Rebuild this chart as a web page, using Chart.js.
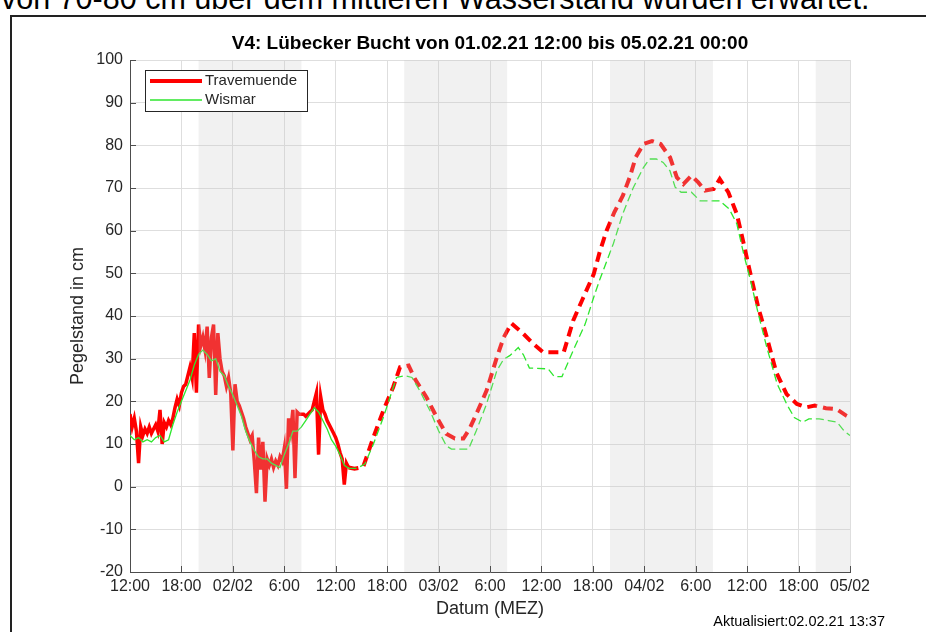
<!DOCTYPE html>
<html>
<head>
<meta charset="utf-8">
<script src="https://cdn.jsdelivr.net/npm/chart.js@4/dist/chart.umd.min.js"></script>
<style>
html, body { margin: 0; padding: 0; background: #fff; width: 926px; height: 632px; overflow: hidden; }
#intro { position: absolute; left: 1px; top: -17px; font: 30.5px 'Liberation Sans', Arial, sans-serif; line-height: 30px; white-space: nowrap; color: #000; }
#frame { position: absolute; left: 10px; top: 15px; width: 940px; height: 650px; border: 2px solid #222; box-sizing: border-box; }
#pegel { position: absolute; left: 0; top: 0; }
</style>
</head>
<body>
<div id="intro">von 70-80 cm über dem mittleren Wasserstand wurden erwartet.</div>
<div id="frame"></div>
<canvas id="pegel" width="926" height="632"></canvas>
<script>
// hours since 01.02.21 12:00
const xTickLabels = ['12:00', '18:00', '02/02', '6:00', '12:00', '18:00', '03/02', '6:00',
    '12:00', '18:00', '04/02', '6:00', '12:00', '18:00', '05/02'];
const nightStart = [8, 32, 56, 80];
const nightEnd = [20, 44, 68, 84];

// measured values, Travemuende every 15 min, Wismar every 30 min (cm)
const traveStep = 0.25;
const traveObs = [
    17, 14, 16, 13,   5.5, 14, 12, 13.5,   12.5, 14, 12.5, 13.5,   14.5, 13, 18, 10,
    15, 14, 15.5, 14.5,   16, 18.5, 20.5, 19,   22, 23.5, 24, 26,   28, 25.5, 36, 22,
    38, 33, 35, 32,   37.5, 25.5, 35, 38,   21.5, 36, 30, 27,   26, 23.5, 25.5, 22,
    8.5, 24, 20, 19,   17.5, 16, 14, 12.5,   11, 12, 6, -1.5,   11.5, 4, 10.5, -3.5,
    6.5, 5, 6.5, 4.5,   6, 5, 7, 6,   9, -0.5, 16, 13,   18, 2, 17.5, 17,
    17, 17, 16.5, 17,   17.5, 18, 20, 22,   7.5, 21, 18, 17,   15.5, 14.5, 13.5, 12.5,
    11.5, 10, 8, 6.5,   0.5, 5.5, 4.5
];
const wismarStep = 0.5;
const wismarObs = [
    12, 11, 11.5, 10.5, 11, 10.5, 11.5, 12, 10.5, 11, 14.5, 17.5, 20, 22.5, 25, 28.5,
    31, 32, 31, 29.5, 30, 27, 26, 23.5, 21.5, 19, 16.5, 13, 10.5, 8.5, 7, 6.5,
    6.5, 5.5, 5, 4.5, 7.5, 10, 13, 13, 14, 15.5, 17, 18.5, 17.5, 15.5, 13.5, 11,
    9.5, 7.5, 5, 4.3
];

// forecast (cm)
const traveFcHours = [25.5, 26.2, 27.2, 28.4, 29.55, 30.7, 31.5, 32.5, 33.25, 34.6, 35.8, 36.9, 37.9, 38.9,
    39.6, 40.4, 41.6, 42.8, 43.6, 44.5, 45.9, 47.1, 48.2, 50.6, 51.7, 52.9, 54.1, 54.8, 55.6, 56.5,
    57.5, 58.3, 59.0, 59.9, 60.9, 61.9, 63.0, 63.8, 64.56, 65.5, 66.3, 67.1, 68.1, 68.8, 69.8, 70.8,
    71.6, 72.3, 73.3, 74.3, 75.4, 76.6, 77.8, 78.9, 79.9, 81.2, 82.4, 83.6, 84];
const traveFc = [4.5, 4.2, 4.6, 11.6, 17.8, 23.3, 28, 28.4, 25.2, 20.9, 16.2, 12.4, 11.3, 11.3,
    13.5, 17, 22.5, 30.3, 35, 38.3, 35.8, 33.4, 31.5, 31.5, 38.9, 44.4, 49.8, 55, 60, 64.3,
    68.2, 72.5, 77.2, 80.3, 81, 80.3, 77.2, 72.5, 70.9, 72.9, 71.3, 69.4, 69.8, 72.1, 69, 63.9,
    56.9, 50.6, 42, 35, 26.8, 21.7, 19.4, 18.6, 19, 18.4, 18.2, 16.6, 16.2];
const wismarFcHours = [25.5, 26.5, 27.4, 28.4, 29.55, 31.1, 32.1, 32.9, 33.8, 35, 36, 36.9, 37.5, 39.5,
    40.4, 41.6, 42.8, 43.6, 44.3, 45.3, 45.9, 46.6, 48.8, 49.5, 50.4, 51.7, 53.1, 54.1, 54.8, 56.4,
    57.5, 58.7, 59.9, 60.6, 61.4, 62.2, 63, 63.6, 64.3, 65.5, 66.5, 68.8, 69.9, 70.8, 71.6, 72.4,
    73.3, 74.3, 75.5, 76.6, 77.5, 78.5, 79.2, 80.4, 81.5, 82.5, 83.3, 84];
const wismarFc = [4.3, 4.3, 5.3, 10, 16.2, 25.6, 26, 25.6, 22.5, 17.8, 13.1, 9.6, 8.8, 8.8,
    13.1, 19.4, 27.2, 29.9, 30.7, 32.6, 30.9, 27.8, 27.6, 25.8, 25.8, 31.9, 38.1, 44.4, 48.5, 57,
    64, 70, 74.8, 76.8, 76.8, 76, 74, 70.2, 69, 69, 67, 67, 65.1, 61.6, 54.5, 48.3,
    40.5, 32.6, 24.1, 19.4, 16.2, 15.1, 15.9, 15.9, 15.5, 15.1, 13.1, 12];

const FONT = "'Liberation Sans', Arial, Helvetica, sans-serif";
const TXT = '#262626';
const RED = '#ff0000';
const GREEN = '#2ee62e';

const stepPts = (vals, step) => vals.map((v, i) => ({ x: i * step, y: v }));
const pairPts = (xs, ys) => xs.map((x, i) => ({ x: x, y: ys[i] }));

const decorations = {
    id: 'decorations',
    afterDatasetsDraw(chart) {
        // night shading on top of the lines, like the original
        const { ctx, chartArea, scales } = chart;
        ctx.save();
        ctx.fillStyle = 'rgba(200,200,200,0.25)';
        nightStart.forEach((s, i) => {
            const x0 = scales.x.getPixelForValue(s);
            const x1 = scales.x.getPixelForValue(nightEnd[i]);
            ctx.fillRect(x0, chartArea.top, x1 - x0, chartArea.bottom - chartArea.top);
        });
        ctx.restore();
    },
    afterDraw(chart) {
        const { ctx, chartArea, scales } = chart;
        ctx.save();
        // inward tick marks
        ctx.strokeStyle = '#4d4d4d';
        ctx.lineWidth = 1;
        ctx.beginPath();
        scales.x.ticks.forEach(t => {
            const px = Math.round(scales.x.getPixelForValue(t.value)) + 0.5;
            ctx.moveTo(px, chartArea.bottom);
            ctx.lineTo(px, chartArea.bottom - 6);
        });
        scales.y.ticks.forEach(t => {
            const py = Math.round(scales.y.getPixelForValue(t.value)) + 0.5;
            ctx.moveTo(chartArea.left, py);
            ctx.lineTo(chartArea.left + 6, py);
        });
        ctx.stroke();

        // title + axis titles
        ctx.fillStyle = '#000';
        ctx.textAlign = 'center';
        ctx.textBaseline = 'middle';
        ctx.font = 'bold 19px ' + FONT;
        ctx.fillText('V4: Lübecker Bucht von 01.02.21 12:00 bis 05.02.21 00:00', (chartArea.left + chartArea.right) / 2, 44);
        ctx.fillStyle = TXT;
        ctx.font = '18px ' + FONT;
        ctx.fillText('Datum (MEZ)', (chartArea.left + chartArea.right) / 2, 609);
        ctx.save();
        ctx.translate(78, (chartArea.top + chartArea.bottom) / 2);
        ctx.rotate(-Math.PI / 2);
        ctx.fillText('Pegelstand in cm', 0, 0);
        ctx.restore();
        ctx.fillStyle = '#000';
        ctx.textAlign = 'right';
        ctx.font = '14.5px ' + FONT;
        ctx.fillText('Aktualisiert:02.02.21 13:37', 885, 622);

        // legend
        const lx = 145.5, ly = 70.5, lw = 162, lh = 41;
        ctx.fillStyle = '#fff';
        ctx.fillRect(lx, ly, lw, lh);
        ctx.strokeStyle = '#262626';
        ctx.lineWidth = 1;
        ctx.strokeRect(lx, ly, lw, lh);
        ctx.strokeStyle = RED;
        ctx.lineWidth = 4;
        ctx.beginPath(); ctx.moveTo(150, 81); ctx.lineTo(202, 81); ctx.stroke();
        ctx.strokeStyle = GREEN;
        ctx.lineWidth = 1.5;
        ctx.beginPath(); ctx.moveTo(150, 100); ctx.lineTo(202, 100); ctx.stroke();
        ctx.fillStyle = TXT;
        ctx.textAlign = 'left';
        ctx.font = '15px ' + FONT;
        ctx.fillText('Travemuende', 205, 81);
        ctx.fillText('Wismar', 205, 100);
        ctx.restore();
    }
};

new Chart(document.getElementById('pegel').getContext('2d'), {
    type: 'line',
    data: {
        datasets: [
            { label: 'Wismar', data: stepPts(wismarObs, wismarStep), borderColor: GREEN, borderWidth: 1.3 },
            { label: 'Wismar Vorhersage', data: pairPts(wismarFcHours, wismarFc), borderColor: GREEN, borderWidth: 1.3, borderDash: [8, 4] },
            { label: 'Travemuende', data: stepPts(traveObs, traveStep), borderColor: RED, borderWidth: 3.5 },
            { label: 'Travemuende Vorhersage', data: pairPts(traveFcHours, traveFc), borderColor: RED, borderWidth: 4, borderDash: [10, 6] }
        ]
    },
    options: {
        responsive: false,
        animation: false,
        parsing: false,
        elements: { point: { radius: 0 }, line: { tension: 0 } },
        layout: { padding: { top: 60, right: 76, bottom: 0, left: 0 } },
        plugins: { legend: { display: false }, tooltip: { enabled: false } },
        scales: {
            x: {
                type: 'linear', min: 0, max: 84,
                ticks: {
                    stepSize: 6, autoSkip: false, maxRotation: 0, padding: 5,
                    color: TXT, font: { family: FONT, size: 16 },
                    callback: v => xTickLabels[Math.round(v / 6)]
                },
                grid: { color: '#dedede', drawTicks: false },
                border: { color: '#4d4d4d', width: 1 },
                afterFit: s => { s.height = 60; s.paddingLeft = 0; s.paddingRight = 0; }
            },
            y: {
                type: 'linear', min: -20, max: 100,
                ticks: { stepSize: 10, padding: 7, color: TXT, font: { family: FONT, size: 16 } },
                grid: { color: '#dedede', drawTicks: false },
                border: { color: '#4d4d4d', width: 1 },
                afterFit: s => { s.width = 130; s.paddingTop = 0; s.paddingBottom = 0; }
            }
        }
    },
    plugins: [decorations]
});
</script>
</body>
</html>
